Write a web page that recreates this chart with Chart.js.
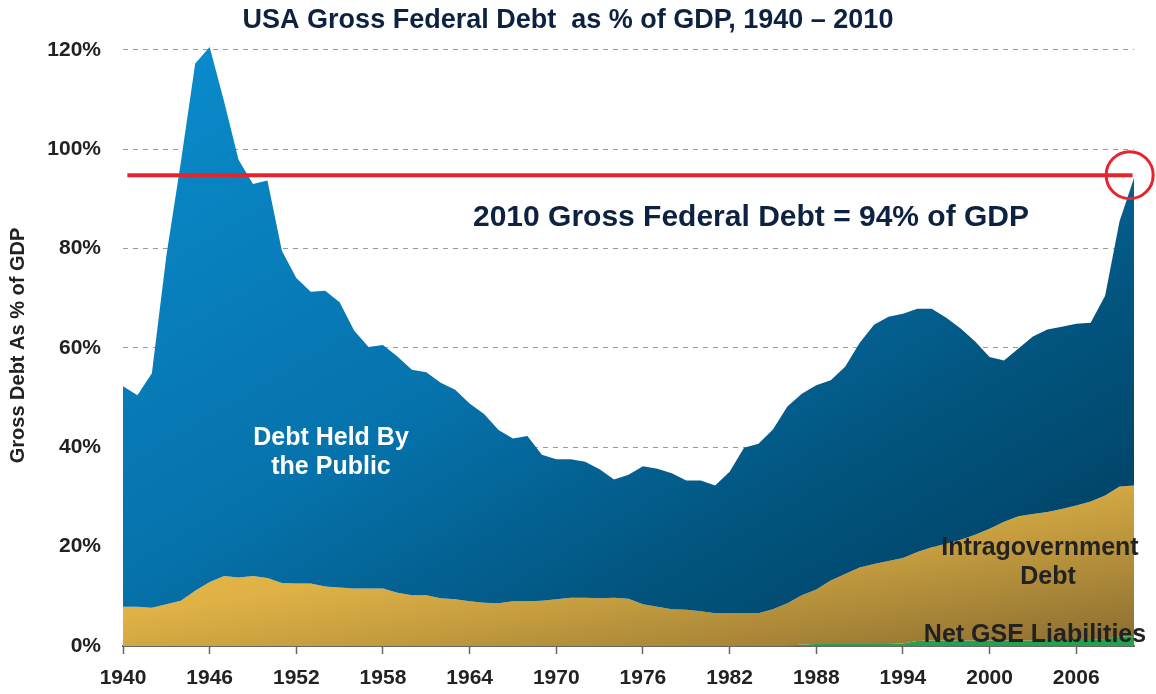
<!DOCTYPE html>
<html><head><meta charset="utf-8">
<script src="https://cdn.jsdelivr.net/npm/chart.js@4/dist/chart.umd.min.js"></script>
<style>html,body{margin:0;padding:0;background:#fff;}#wrap{width:1156px;height:694px;}</style>
</head><body><div id="wrap"><canvas id="c" width="1156" height="694"></canvas></div>
<script>
const years = [1940,1941,1942,1943,1944,1945,1946,1947,1948,1949,1950,1951,1952,1953,1954,1955,1956,1957,1958,1959,1960,1961,1962,1963,1964,1965,1966,1967,1968,1969,1970,1971,1972,1973,1974,1975,1976,1977,1978,1979,1980,1981,1982,1983,1984,1985,1986,1987,1988,1989,1990,1991,1992,1993,1994,1995,1996,1997,1998,1999,2000,2001,2002,2003,2004,2005,2006,2007,2008,2009,2010];
// Top of the whole stack (gross federal debt, % of GDP)
const grossDebt = [52.3,50.5,54.9,78.5,97.3,117.3,120.6,109.6,97.9,93.0,93.7,79.6,74.1,71.3,71.5,69.2,63.5,60.2,60.6,58.3,55.6,55.1,53.0,51.6,48.8,46.7,43.5,41.8,42.3,38.5,37.6,37.6,37.1,35.6,33.5,34.5,36.2,35.7,34.8,33.3,33.3,32.3,35.1,39.9,40.7,43.6,48.2,50.8,52.5,53.5,56.2,61.0,64.7,66.3,66.9,67.9,67.9,66.1,63.9,61.3,58.2,57.5,59.9,62.3,63.7,64.3,64.9,65.1,70.5,85.5,94.2];
// Top of the intragovernment band (intragovernment + net GSE)
const intragovTop = [7.9,7.9,7.7,8.4,9.1,11.1,12.9,14.1,13.8,14.1,13.7,12.7,12.6,12.6,12.0,11.8,11.6,11.6,11.6,10.7,10.2,10.2,9.6,9.4,9.0,8.7,8.6,9.0,9.0,9.1,9.4,9.7,9.7,9.6,9.7,9.5,8.4,7.9,7.4,7.3,7.0,6.6,6.6,6.6,6.6,7.4,8.6,10.2,11.4,13.2,14.5,15.8,16.5,17.1,17.7,18.9,19.9,20.6,21.4,22.4,23.6,25.0,26.1,26.6,27.0,27.6,28.3,29.1,30.3,32.1,32.3];
// Net GSE liabilities
const netGSE = [0,0,0,0,0,0,0,0,0,0,0,0,0,0,0,0,0,0,0,0,0,0,0,0,0,0,0,0,0,0,0,0,0,0,0,0,0,0,0,0,0,0,0,0,0,0,0,0.3,0.4,0.4,0.4,0.4,0.4,0.4,0.5,1.0,1.1,1.1,1.1,1.1,1.1,1.1,1.1,1.1,1.2,1.2,1.2,1.2,1.4,1.9,2.0];
const xTickYears = [1940,1946,1952,1958,1964,1970,1976,1982,1988,1994,2000,2006];
const yTickValues = [0,20,40,60,80,100,120];
const refLineYears = [1940.3, 2009.9];
const refLineLevel = 94.8;
const circleYear = 2009.7;
const titleText = 'USA Gross Federal Debt  as % of GDP, 1940 \u2013 2010';
const noteText = '2010 Gross Federal Debt = 94% of GDP';
const yTitle = 'Gross Debt As % of GDP';

const FONT = '"Liberation Sans", Arial, sans-serif';

function toPts(vals){ return years.map((y,i)=>({x:y, y:vals[i]})); }

function scaledDiag(chart, x0, y0, x1, y1, stops){
  const W = x1-x0, H = y1-y0;
  const k = 2/(1/(W*W)+1/(H*H));
  const g = chart.ctx.createLinearGradient(x0, y0, x0 + k/W, y0 + k/H);
  stops.forEach(s=>g.addColorStop(s[0], s[1]));
  return g;
}
function blueFill(ctx){
  const chart = ctx.chart, a = chart.chartArea;
  if(!a) return '#03618f';
  return scaledDiag(chart, a.left, a.top, a.right, a.bottom,
    [[0,'#0a8dce'],[0.45,'#0672ab'],[0.7,'#02557f'],[1,'#00395a']]);
}
function goldFill(ctx){
  const chart = ctx.chart, a = chart.chartArea;
  if(!a) return '#c9a040';
  const yTop = chart.scales.y.getPixelForValue(32.5);
  return scaledDiag(chart, a.left, yTop, a.right, a.bottom,
    [[0,'#e9ba4a'],[0.4,'#e0b246'],[0.6,'#c59d3f'],[1,'#8a6c30']]);
}

const textPlugin = {
  id:'texts',
  afterDraw(chart){
    const c = chart.ctx;
    c.save();
    c.textAlign='center'; c.textBaseline='middle';
    c.fillStyle='#0d2240';
    c.font='bold 27px '+FONT;
    c.fillText(titleText, 568, 21);
    c.font='bold 30px '+FONT;
    c.fillText(noteText, 751, 218);
    c.fillStyle='#ffffff';
    c.font='bold 25px '+FONT;
    c.fillText('Debt Held By', 331, 438);
    c.fillText('the Public', 331, 467);
    c.fillStyle='#222222';
    c.fillText('Intragovernment', 1040, 548);
    c.fillText('Debt', 1048, 577);
    c.fillText('Net GSE Liabilities', 1035, 635);
    c.restore();
  }
};

new Chart(document.getElementById('c'), {
  type:'line',
  data:{
    datasets:[
      {label:'Debt Held By the Public', data:toPts(grossDebt), fill:'+1', backgroundColor:blueFill, borderWidth:0, pointRadius:0, order:3},
      {label:'Intragovernment Debt', data:toPts(intragovTop), fill:'+1', backgroundColor:goldFill, borderWidth:0, pointRadius:0, order:4},
      {label:'Net GSE Liabilities', data:toPts(netGSE), fill:'origin', backgroundColor:'#25a04e', borderWidth:0, pointRadius:0, order:5},
      {label:'ref', data:refLineYears.map(x=>({x, y:refLineLevel})), borderColor:'#e8232b', borderWidth:4, pointRadius:0, fill:false, order:1},
      {label:'circle', data:[{x:circleYear, y:refLineLevel}], showLine:false, pointRadius:23.5, pointHoverRadius:23.5, pointBorderWidth:3, pointBorderColor:'#e8232b', pointBackgroundColor:'rgba(0,0,0,0)', fill:false, order:0, clip:false}
    ]
  },
  options:{
    responsive:false, animation:false, devicePixelRatio:1,
    layout:{autoPadding:false, padding:{top:45, right:22, left:0, bottom:0}},
    elements:{line:{tension:0}},
    plugins:{legend:{display:false}, tooltip:{enabled:false}, title:{display:false}},
    scales:{
      x:{
        type:'linear', min:1940, max:2010,
        afterBuildTicks:(ax)=>{ ax.ticks = xTickYears.map(v=>({value:v})); },
        afterFit:(s)=>{ s.height = 48; s.paddingLeft = 0; s.paddingRight = 0; },
        grid:{drawOnChartArea:false, drawTicks:true, tickLength:8, tickColor:'#666', tickWidth:1.5},
        border:{display:true, color:'#666', width:2},
        ticks:{color:'#222', font:{family:FONT, size:21, weight:'bold'}, padding:12, maxRotation:0, autoSkip:false, callback:(v)=>String(v)}
      },
      y:{
        min:0, max:121,
        afterBuildTicks:(ax)=>{ ax.ticks = yTickValues.map(v=>({value:v})); },
        afterFit:(s)=>{ s.width = 123; },
        grid:{drawTicks:false, color:(ctx)=> (ctx.tick && ctx.tick.value===0) ? 'rgba(0,0,0,0)' : '#9a9a9a', lineWidth:1},
        border:{display:false, dash:[5,5]},
        ticks:{color:'#222', font:{family:FONT, size:21, weight:'bold'}, padding:22, callback:(v)=>v+'%'},
        title:{display:true, text:yTitle, color:'#222', font:{family:FONT, size:20, weight:'bold'}, padding:{top:6, bottom:0}}
      }
    }
  },
  plugins:[textPlugin]
});
</script></body></html>
